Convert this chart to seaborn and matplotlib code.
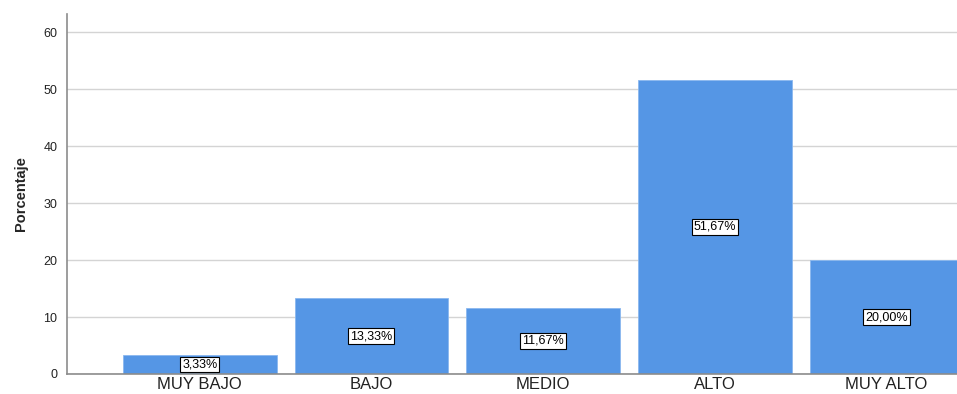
import matplotlib
matplotlib.use("Agg")
import matplotlib.pyplot as plt
import seaborn as sns
import pandas as pd

categories = ["MUY BAJO", "BAJO", "MEDIO", "ALTO", "MUY ALTO"]
values = [3.33, 13.33, 11.67, 51.67, 20.00]
labels = ["3,33%", "13,33%", "11,67%", "51,67%", "20,00%"]
yticks = [0, 10, 20, 30, 40, 50, 60]

sns.set_theme(style="white")
plt.rcParams['font.family'] = ['Liberation Sans', 'DejaVu Sans']

df = pd.DataFrame({"cat": categories, "val": values})

fig = plt.figure(figsize=(9.57, 3.94), dpi=100)
ax = fig.add_axes([67/957, 1 - 374/394, 1 - 67/957, (374 - 14)/394])

sns.barplot(data=df, x="cat", y="val", order=categories, color="#5596e5",
            saturation=1, width=0.895, ax=ax, edgecolor="#8ab8ef", linewidth=0.6, zorder=2)

ax.set_xlim(-0.773, 4.41)
ax.set_ylim(0, 63.2)
ax.set_yticks(yticks)
ax.set_yticklabels([str(t) for t in yticks], fontsize=9, color="#222222")
ax.yaxis.grid(True, color="#d4d4d4", linewidth=1, zorder=0)
ax.set_axisbelow(True)
ax.tick_params(axis="x", labelsize=12, length=0, pad=2, colors="#222222")
ax.tick_params(axis="y", length=0, pad=7)
ax.set_xlabel("")
ax.set_ylabel("Porcentaje", fontsize=10.5, fontweight="bold", labelpad=11)

for s in ["top", "right"]:
    ax.spines[s].set_visible(False)
for s in ["left", "bottom"]:
    ax.spines[s].set_color("#8c8c8c")
    ax.spines[s].set_linewidth(1.2)

for i, (v, lab) in enumerate(zip(values, labels)):
    ax.text(i, v / 2, lab, ha="center", va="center", fontsize=9, color="black",
            bbox=dict(boxstyle="square,pad=0.15", facecolor="white", edgecolor="black", linewidth=0.8),
            zorder=5)

fig.savefig("out.png", dpi=100)
